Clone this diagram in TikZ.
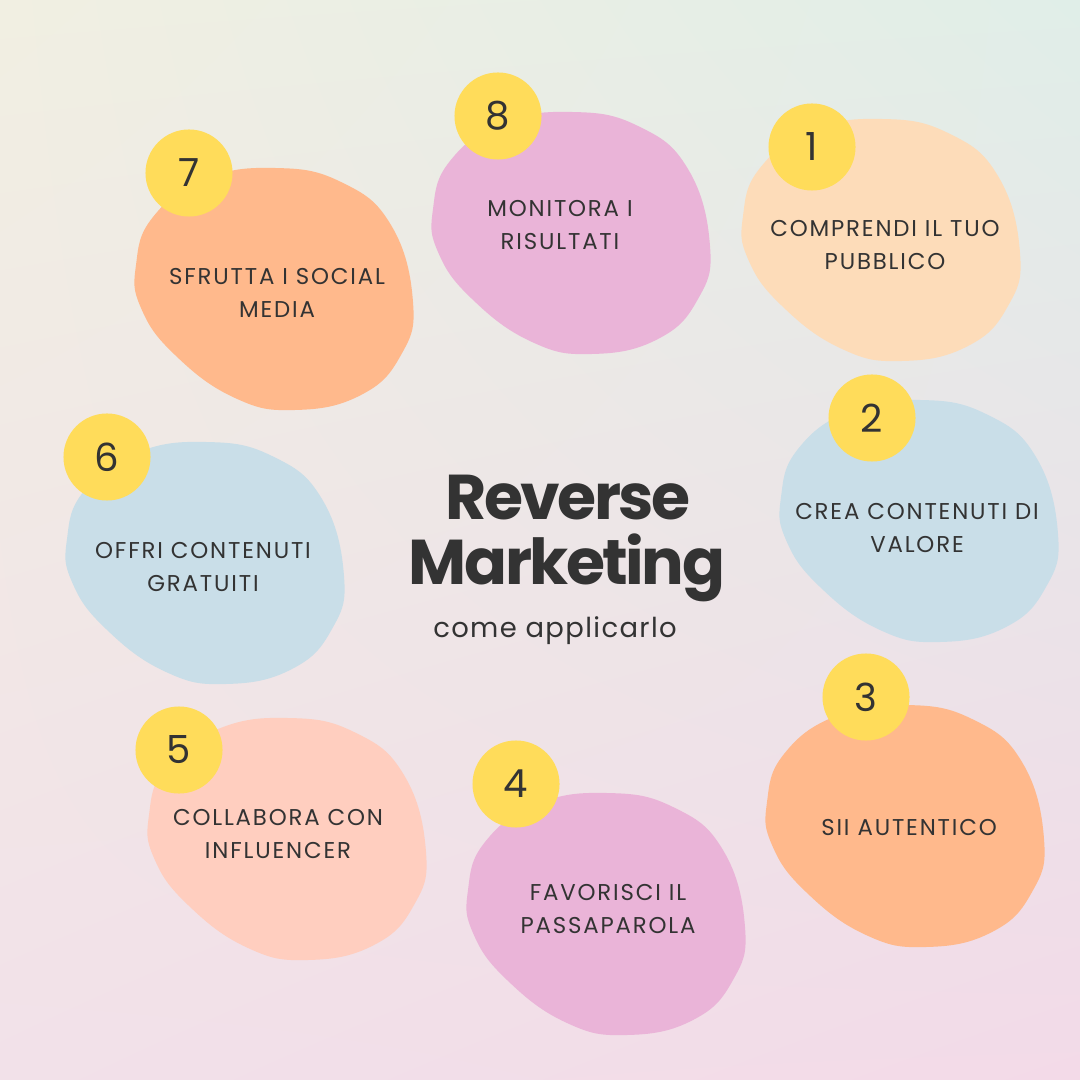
\documentclass[tikz,border=0pt]{standalone}
\usepackage{fontspec}
\setmainfont{Poppins}
\newfontfamily\stepfont[LetterSpace=8]{Poppins}
\newfontfamily\subfont[LetterSpace=5]{Poppins}
\newfontfamily\titlefont[LetterSpace=-4]{Poppins}
\usepackage{tikz}
\usetikzlibrary{positioning,shadings}
\definecolor{BgTL}  {HTML}{F1EFE2}
\definecolor{BgTR}  {HTML}{E0EEE8}
\definecolor{BgBL}  {HTML}{F2E1E9}
\definecolor{BgBR}  {HTML}{F3DAE8}
\definecolor{Peach} {HTML}{FDDCB9}
\definecolor{Sky}   {HTML}{C9DEE8}
\definecolor{Apri}  {HTML}{FFB98C}
\definecolor{Orchid}{HTML}{EAB4D8}
\definecolor{Salmon}{HTML}{FFCEBF}
\definecolor{Sun}   {HTML}{FFDC5A}
\definecolor{Ink}   {HTML}{333333}
\begin{document}
\begin{tikzpicture}[x=0.01cm,y=-0.01cm,
  blob/.pic={\path[pic actions] plot[smooth cycle,tension=0.75] coordinates{
    (-139,-24) (-122,-72) (-70,-110) (0,-121) (66,-107) (116,-64) (138,13)
    (126,66) (86,106) (20,121) (-40,109) (-100,66) (-134,19)};},
  numdot/.style={circle,fill=Sun,minimum size=0.87cm,inner sep=0pt,
    font=\fontsize{11}{11}\selectfont\color{Ink}},
  stepbox/.style={align=center,font=\stepfont\fontsize{6.5}{9.4}\selectfont\color{Ink}},
  titlebox/.style={anchor=base,font=\titlefont\fontsize{18}{20}\selectfont\bfseries\color{Ink}},
]
\useasboundingbox (0,0) rectangle (1080,1080);
\shade[upper left=BgTL,upper right=BgTR,lower left=BgBL,lower right=BgBR]
  (0,0) rectangle (1080,1080);
% blobs
\pic[fill=Peach]  at (882,240) {blob};
\pic[fill=Sky]    at (920,521) {blob};
\pic[fill=Apri]   at (906,826) {blob};
\pic[fill=Orchid] at (607,914) {blob};
\pic[fill=Salmon] at (288,839) {blob};
\pic[fill=Sky]    at (206,563) {blob};
\pic[fill=Apri]   at (275,289) {blob};
\pic[fill=Orchid] at (572,233) {blob};
% step texts
\node[stepbox](s1) at (885,245){COMPRENDI IL TUO\\PUBBLICO};
\node[stepbox](s2) at (917,528){CREA CONTENUTI DI\\VALORE};
\node[stepbox](s3) at (909,828){SII AUTENTICO};
\node[stepbox](s4) at (608,909){FAVORISCI IL\\PASSAPAROLA};
\node[stepbox](s5) at (278,834){COLLABORA CON\\INFLUENCER};
\node[stepbox](s6) at (203,567){OFFRI CONTENUTI\\GRATUITI};
\node[stepbox](s7) at (277,293){SFRUTTA I SOCIAL\\MEDIA};
\node[stepbox](s8) at (560,225){MONITORA I\\RISULTATI};
% numbers
\node[numdot](d1) at (812,147){1};
\node[numdot](d2) at (872,418){2};
\node[numdot](d3) at (866,697){3};
\node[numdot](d4) at (516,784){4};
\node[numdot](d5) at (179,750){5};
\node[numdot](d6) at (107,457){6};
\node[numdot](d7) at (189,173){7};
\node[numdot](d8) at (498,116){8};
% title
\node[titlebox](t1) at (568,520){Reverse};
\node[titlebox](t2) at (567,584){Marketing};
\node[anchor=base,font=\subfont\fontsize{7.8}{8}\selectfont\color{Ink}](t3) at (555,637){come applicarlo};
\end{tikzpicture}
\end{document}
